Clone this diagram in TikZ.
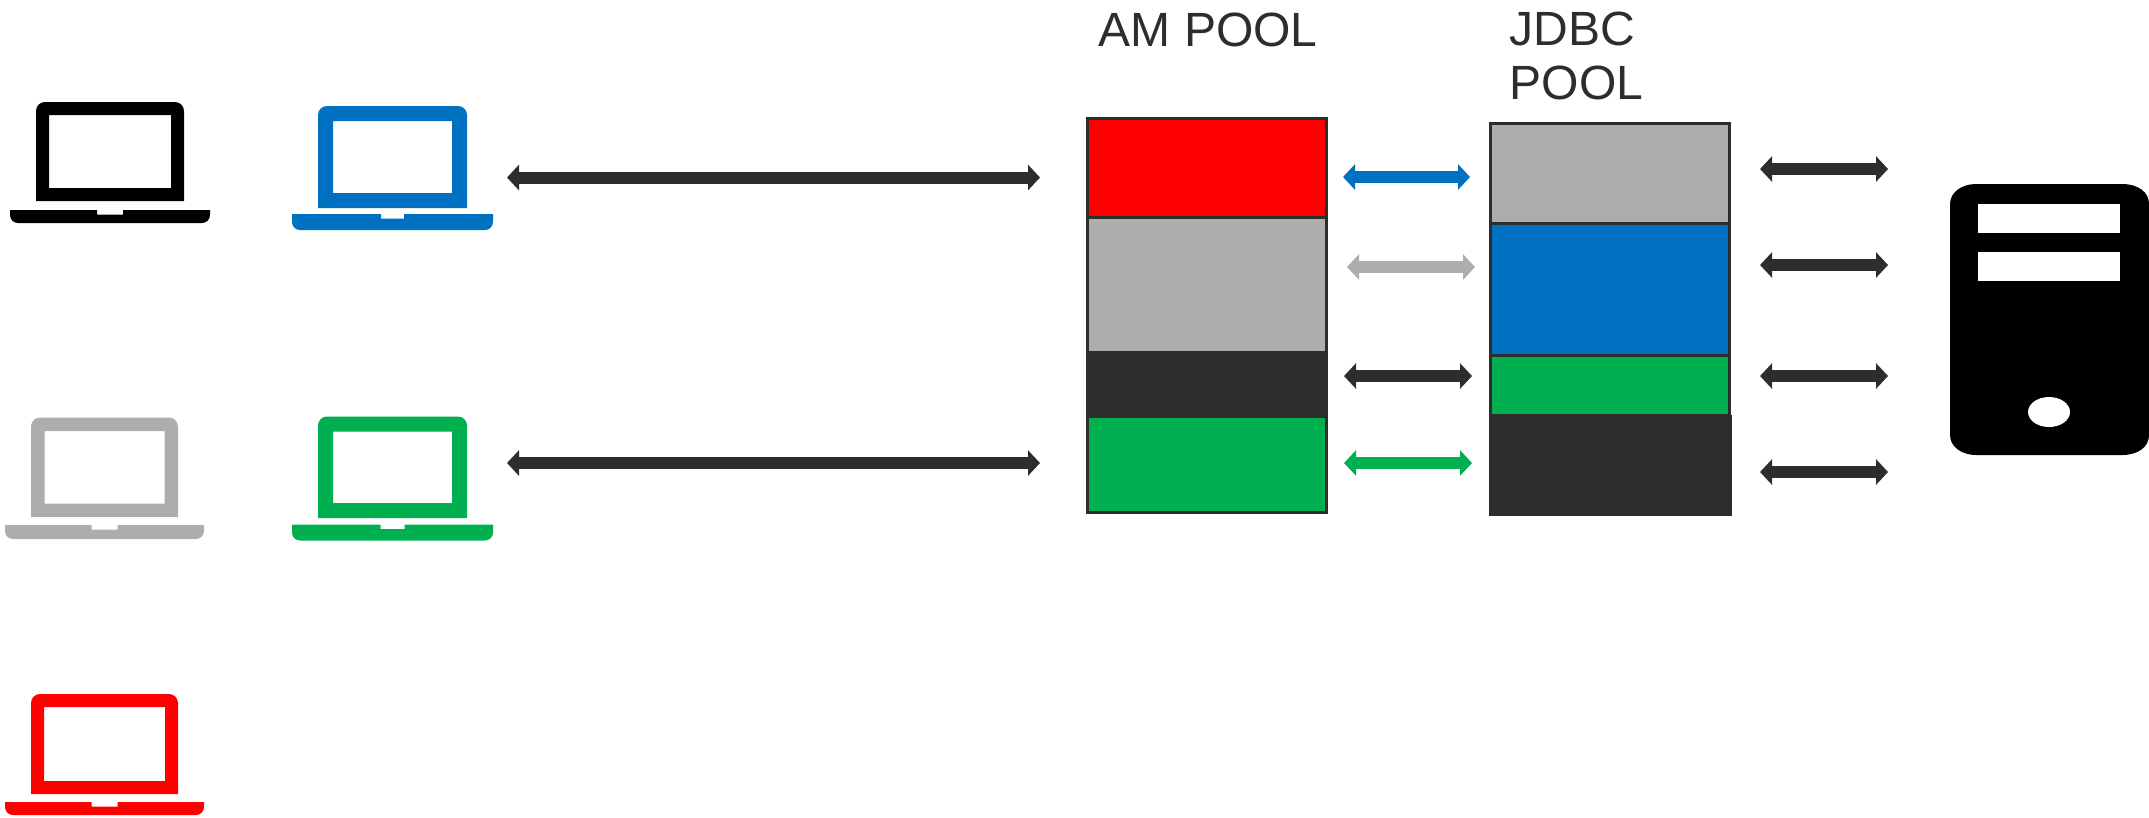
\documentclass[tikz,border=0pt]{standalone}
\usepackage{fontspec}
\usepackage{xcolor}
\usetikzlibrary{arrows.meta}
\newfontfamily\poolfont{Liberation Sans}
\definecolor{poolred}{HTML}{FF0000}
\definecolor{poolgrey}{HTML}{ADADAD}
\definecolor{pooldark}{HTML}{2D2D2D}
\definecolor{poolblue}{HTML}{0070C0}
\definecolor{poolgreen}{HTML}{00B050}
\tikzset{
  cell/.style={draw=pooldark, line width=0.03cm, anchor=north west, inner sep=0, outer sep=0},
  link/.style={line width=0.12cm, {Triangle[length=0.12cm,width=0.25cm]}-{Triangle[length=0.12cm,width=0.25cm]}},
  title/.style={anchor=base west, inner sep=0, align=left, text=pooldark, font=\poolfont\fontsize{13.66}{15.4}\selectfont}
}
% colour, left, top, width, height, inset, gap, base height, notch width
\newcommand{\laptop}[9]{
\fill [#1, even odd rule] (#2,#3+#5) [rounded corners=0.09cm] -- (#2,#3) -- (#2+#4,#3) [sharp corners] -- (#2+#4,#3+#5) -- cycle
  (#2+#6,#3+#6) rectangle (#2+#4-#6,#3+#5-#6);
\fill [#1] (#2-26,#3+#5+#7) -- (#2+#4/2-#9/2,#3+#5+#7) -- (#2+#4/2-#9/2,#3+#5+#7+4.5) -- (#2+#4/2+#9/2,#3+#5+#7+4.5) -- (#2+#4/2+#9/2,#3+#5+#7) -- (#2+#4+26,#3+#5+#7) [rounded corners=0.08cm] -- (#2+#4+26,#3+#5+#7+#8) -- (#2-26,#3+#5+#7+#8) [sharp corners] -- cycle;
}
\begin{document}
\begin{tikzpicture}[x=0.01cm,y=-0.01cm]
\useasboundingbox (0,0) rectangle (2149,817);
\laptop{black}{36}{102}{148}{99}{13}{9}{13}{26}
\laptop{poolgrey}{31}{417.5}{147}{99.5}{13.5}{8}{14}{26}
\laptop{poolred}{31}{694}{147}{100}{13}{8}{13}{26}
\laptop{poolblue}{318}{106}{149}{102}{15}{6}{16}{23}
\laptop{poolgreen}{318}{416.5}{149}{101.5}{15}{6.5}{16}{24}

\node [title] (amTitle) at (1098,46) {AM POOL};
\node [title] (jdbcTitle) at (1509,99.5) {JDBC\\POOL};

\node [cell, fill=poolred, minimum width=2.39cm, minimum height=0.985cm] (amRed) at (1087.7,118.5) {};
\node [cell, fill=poolgrey, minimum width=2.39cm, minimum height=1.35cm] (amGrey) at (1087.7,217) {};
\node [cell, fill=pooldark, minimum width=2.39cm, minimum height=0.64cm] (amDark) at (1087.7,352) {};
\node [cell, fill=poolgreen, minimum width=2.39cm, minimum height=0.965cm] (amGreen) at (1087.7,416) {};

\node [cell, fill=poolgrey, minimum width=2.39cm, minimum height=0.995cm] (jdbcGrey) at (1490.4,123.5) {};
\node [cell, fill=poolblue, minimum width=2.39cm, minimum height=1.32cm] (jdbcBlue) at (1490.4,223) {};
\node [cell, fill=poolgreen, minimum width=2.39cm, minimum height=0.6cm] (jdbcGreen) at (1490.4,355) {};
\node [cell, draw=none, fill=pooldark, minimum width=2.43cm, minimum height=1.01cm] (jdbcDark) at (1489,415) {};

\coordinate (clientA) at (507,177.5);
\coordinate (clientB) at (507,463);
\coordinate (amA) at (1040,177.5);
\coordinate (amB) at (1040,463);
\draw [link, pooldark] (clientA)--(amA);
\draw [link, pooldark] (clientB)--(amB);

\coordinate (amToBlue) at (1343,177);
\coordinate (jdbcToBlue) at (1470,177);
\coordinate (amToGrey) at (1347,267);
\coordinate (jdbcToGrey) at (1475,267);
\coordinate (amToDark) at (1344,376);
\coordinate (jdbcToDark) at (1472,376);
\coordinate (amToGreen) at (1344,463);
\coordinate (jdbcToGreen) at (1472,463);
\draw [link, poolblue] (amToBlue)--(jdbcToBlue);
\draw [link, poolgrey] (amToGrey)--(jdbcToGrey);
\draw [link, pooldark] (amToDark)--(jdbcToDark);
\draw [link, poolgreen] (amToGreen)--(jdbcToGreen);

\foreach \rowname/\rowy in {a/169,b/265,c/376,d/472} {
\coordinate (jdbc\rowname) at (1760,\rowy);
\coordinate (server\rowname) at (1888,\rowy);
\draw [link, pooldark] (jdbc\rowname)--(server\rowname);
}

\fill [black] (1950,204) .. controls (1950,192) and (1962,184) .. (1976,184) -- (2122,184) .. controls (2138,184) and (2149,192) .. (2149,204) -- (2149,435) .. controls (2149,447) and (2138,455) .. (2122,455) -- (1976,455) .. controls (1962,455) and (1950,447) .. (1950,435) -- cycle;
\fill [white] (1978,204) rectangle (2120,233);
\fill [white] (1978,252) rectangle (2120,281);
\fill [white] (2049,412) ellipse [x radius=21, y radius=15];
\end{tikzpicture}
\end{document}
